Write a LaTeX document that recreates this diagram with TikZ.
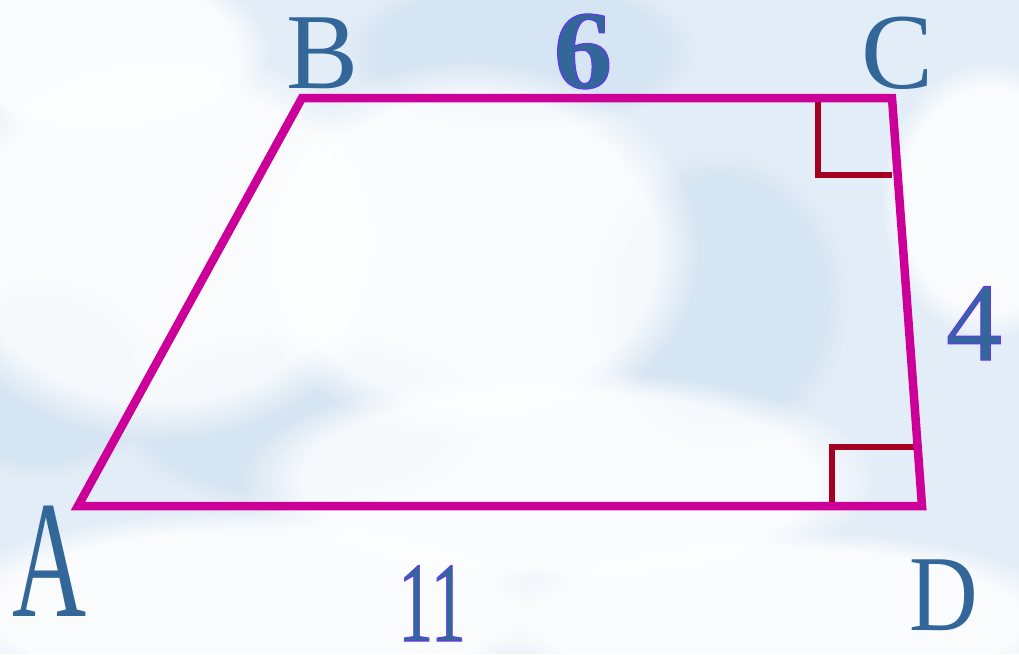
\documentclass[tikz,border=0pt]{standalone}
\usepackage{fontspec}
\setmainfont{Liberation Serif}
\usetikzlibrary{fadings}
\definecolor{sky}{HTML}{E3EDF7}
\definecolor{skydark}{HTML}{D3E3F2}
\definecolor{edge}{HTML}{CC0099}
\definecolor{mark}{HTML}{A50021}
\definecolor{lab}{HTML}{336699}
\definecolor{numline}{HTML}{6633FF}
\tikzset{
  side/.style={draw=edge,line width=8.5pt},
  rmark/.style={draw=mark,line width=6pt},
  cloud/.style={fill=white,opacity=0.8,path fading=circle with fuzzy edge 20 percent},
  darkpatch/.style={fill=skydark,opacity=0.8,path fading=circle with fuzzy edge 20 percent},
  letter/.style={text=lab,inner sep=0pt,anchor=base},
  numlab/.style={text=lab,inner sep=0pt,anchor=base}
}
\newcommand{\numtxt}[1]{\special{pdf:code 2 Tr 1.0 w 0.4 0.2 1 RG}#1\special{pdf:code 0 Tr}}
\begin{document}
\begin{tikzpicture}[x=1pt,y=-1pt]
\useasboundingbox (0,0) rectangle (1019,654);
% sky background
\fill[sky] (0,0) rectangle (1019,654);
\fill[darkpatch] (520,50) ellipse (180 and 80);
\fill[darkpatch] (720,300) ellipse (130 and 150);
\fill[darkpatch] (300,420) ellipse (190 and 90);
\fill[darkpatch] (40,380) ellipse (120 and 100);
\fill[cloud] (160,240) ellipse (240 and 200);
\fill[cloud] (470,250) ellipse (230 and 190);
\fill[cloud] (560,480) ellipse (320 and 110);
\fill[cloud] (250,610) ellipse (320 and 100);
\fill[cloud] (780,620) ellipse (300 and 90);
\fill[cloud] (100,50) ellipse (170 and 90);
\fill[cloud] (990,200) ellipse (110 and 140);
% vertices
\coordinate (A) at (78,506);
\coordinate (B) at (302,98);
\coordinate (C) at (892,98);
\coordinate (D) at (922,506);
\coordinate (c1) at (818,100);
\coordinate (c2) at (818,175);
\coordinate (c3) at (892,175);
\coordinate (d1) at (832,505);
\coordinate (d2) at (832,447);
\coordinate (d3) at (920,447);
% right-angle marks
\draw[rmark] (c1) -- (c2) -- (c3);
\draw[rmark] (d1) -- (d2) -- (d3);
% trapezoid
\draw[side] (A) -- (B) -- (C) -- (D) -- cycle;
% vertex labels
\node[letter,font=\fontsize{108}{108}\selectfont] (lB) at (323,88) {B};
\node[letter,font=\fontsize{108}{108}\selectfont] (lC) at (898,88) {C};
\node[letter,font=\fontsize{108}{108}\selectfont,xscale=0.95,yscale=1.55] (lA) at (50,616) {A};
\node[letter,font=\fontsize{108}{108}\selectfont,xscale=0.88] (lD) at (944,630) {D};
% side lengths
\node[numlab,font=\bfseries\fontsize{112}{112}\selectfont,xscale=1.05] (n6) at (583,88) {\numtxt{6}};
\node[numlab,font=\fontsize{114}{114}\selectfont,xscale=0.62] (n11) at (432,641) {\numtxt{11}};
\node[numlab,font=\fontsize{112}{112}\selectfont] (n4) at (974,360) {\numtxt{4}};
\end{tikzpicture}
\end{document}
